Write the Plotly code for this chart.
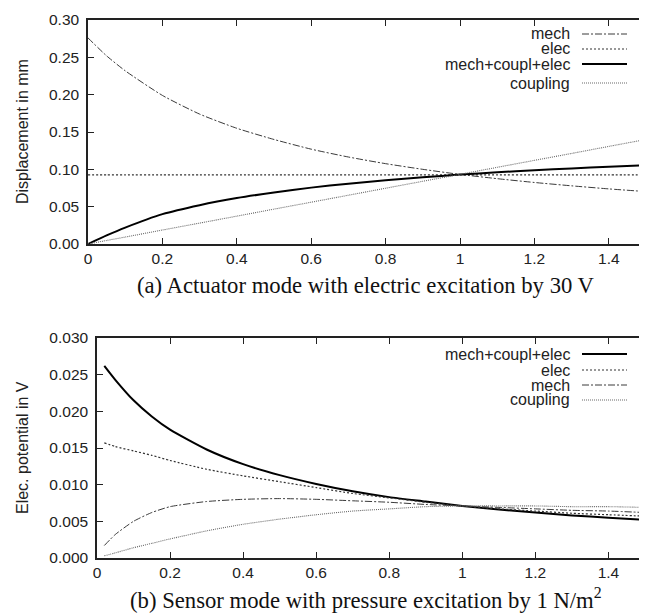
import plotly.graph_objects as go

# ---------------- data ----------------
x_top = [0, 0.05, 0.1, 0.2, 0.3, 0.4, 0.5, 0.6, 0.7, 0.8, 0.9, 1.0, 1.1, 1.2, 1.3, 1.4, 1.5]
top_mech = [0.276, 0.252, 0.232, 0.199, 0.174, 0.155, 0.140, 0.127, 0.1165, 0.1076, 0.100,
            0.0932, 0.0875, 0.0824, 0.0779, 0.0738, 0.0702]
top_elec = [0.0925] * 17
top_total = [0.0, 0.0115, 0.022, 0.040, 0.052, 0.0615, 0.069, 0.0755, 0.0808, 0.0853, 0.0893,
             0.0930, 0.0960, 0.0987, 0.1012, 0.1034, 0.1055]
top_coupling = [0.0, 0.0047, 0.0093, 0.0187, 0.028, 0.0373, 0.0467, 0.056, 0.0653, 0.0747, 0.084,
                0.0933, 0.1027, 0.112, 0.1213, 0.1307, 0.140]

x_bot = [0.02, 0.05, 0.1, 0.15, 0.2, 0.3, 0.4, 0.5, 0.6, 0.7, 0.8, 0.9, 1.0, 1.1, 1.2, 1.3, 1.4, 1.5]
bot_total = [0.0262, 0.0243, 0.0215, 0.0193, 0.0175, 0.0148, 0.0128, 0.0113, 0.0101, 0.0091,
             0.0083, 0.0077, 0.0071, 0.0066, 0.0062, 0.0058, 0.0055, 0.0052]
bot_elec = [0.0157, 0.0152, 0.0146, 0.0140, 0.0133, 0.0121, 0.0112, 0.0104, 0.0096, 0.0088,
            0.0082, 0.0076, 0.0071, 0.0067, 0.0064, 0.0061, 0.0059, 0.0057]
bot_mech = [0.0017, 0.0032, 0.0050, 0.0062, 0.0070, 0.0077, 0.0080, 0.0081, 0.0080, 0.0078,
            0.0076, 0.0073, 0.0071, 0.0069, 0.0067, 0.0065, 0.0064, 0.0062]
bot_coupling = [0.0003, 0.0007, 0.0014, 0.0020, 0.0026, 0.0037, 0.0046, 0.0053, 0.0059, 0.0064,
                0.0067, 0.0070, 0.0071, 0.0071, 0.0071, 0.0070, 0.0070, 0.0069]

top_legend = ["mech", "elec", "mech+coupl+elec", "coupling"]
bot_legend = ["mech+coupl+elec", "elec", "mech", "coupling"]
x_ticks = [0, 0.2, 0.4, 0.6, 0.8, 1.0, 1.2, 1.4]
x_ticklabels = ["0", "0.2", "0.4", "0.6", "0.8", "1", "1.2", "1.4"]
top_caption = "(a) Actuator mode with electric excitation by 30 V"
bot_caption = "(b) Sensor mode with pressure excitation by 1 N/m<sup>2</sup>"
top_ytitle = "Displacement in mm"
bot_ytitle = "Elec. potential in V"

# ---------------- styles ----------------
OFF = 8                      # page body margin of the html page
W, H = 647 - OFF, 614 - OFF  # figure size so it fits the window
STY = {
    "mech": dict(color="#3a3a3a", width=1, dash="7px,2px,2px,2px"),
    "elec": dict(color="#333333", width=1.2, dash="2px,2px"),
    "mech+coupl+elec": dict(color="#000000", width=2),
    "coupling": dict(color="#6a6a6a", width=1.1, dash="1px,1px"),
}
SANS = "Liberation Sans, Arial, sans-serif"
SERIF = "Liberation Serif, Times New Roman, serif"

fig = go.Figure()

def add(x, y, name, xa, ya):
    fig.add_trace(go.Scatter(x=x, y=y, mode="lines", line=dict(shape="spline", smoothing=0.6, **STY[name]),
                             xaxis=xa, yaxis=ya, showlegend=False, name=name))

add(x_top, top_mech, "mech", "x", "y")
add(x_top, top_elec, "elec", "x", "y")
add(x_top, top_total, "mech+coupl+elec", "x", "y")
add(x_top, top_coupling, "coupling", "x", "y")

add(x_bot, bot_total, "mech+coupl+elec", "x2", "y2")
add(x_bot, bot_elec, "elec", "x2", "y2")
add(x_bot, bot_mech, "mech", "x2", "y2")
add(x_bot, bot_coupling, "coupling", "x2", "y2")

def px(v):
    return (v - OFF) / W

def py(v):
    return 1 - (v - OFF) / H

axis_common = dict(showline=True, linecolor="#222222", linewidth=1.5, mirror="ticks", ticks="inside",
                   ticklen=6, tickcolor="#222222", showgrid=False, zeroline=False, automargin=False,
                   tickfont=dict(family=SANS, size=15.5, color="#222222"))

fig.update_layout(
    width=W, height=H, margin=dict(l=0, r=0, t=0, b=0, autoexpand=False),
    paper_bgcolor="white", plot_bgcolor="white",
    xaxis=dict(domain=[px(88), min(1.0, px(646))], range=[0, 1.5], anchor="y", tickvals=x_ticks,
               ticktext=x_ticklabels, **axis_common),
    yaxis=dict(domain=[py(244), py(20)], range=[0, 0.30], anchor="x", dtick=0.05, tickformat=".2f",
               ticklabelstandoff=4, **axis_common),
    xaxis2=dict(domain=[px(97), min(1.0, px(645))], range=[0, 1.5], anchor="y2", tickvals=x_ticks,
                ticktext=x_ticklabels, **axis_common),
    yaxis2=dict(domain=[py(558), py(338)], range=[0, 0.030], anchor="x2", dtick=0.005, tickformat=".3f",
                ticklabelstandoff=4, **axis_common),
)

ann = []
shapes = []

def legend(names, rows):
    for name, r in zip(names, rows):
        ann.append(dict(x=px(572), y=py(r), xref="paper", yref="paper", text=name, showarrow=False,
                        xanchor="right", yanchor="middle", font=dict(family=SANS, size=16, color="#222222")))
        shapes.append(dict(type="line", xref="paper", yref="paper", x0=px(582), x1=px(627),
                           y0=py(r), y1=py(r), line=STY[name]))

legend(top_legend, [34, 49, 64, 83])
legend(bot_legend, [354, 370, 385, 400])

ann.append(dict(x=px(22), y=py(132), xref="paper", yref="paper", text=top_ytitle, textangle=-90,
                xanchor="center", yanchor="middle",
                showarrow=False, font=dict(family=SANS, size=16, color="#222222")))
ann.append(dict(x=px(22), y=py(448), xref="paper", yref="paper", text=bot_ytitle, textangle=-90,
                xanchor="center", yanchor="middle",
                showarrow=False, font=dict(family=SANS, size=16, color="#222222")))
ann.append(dict(x=px(366), y=py(285), xref="paper", yref="paper", text=top_caption, showarrow=False,
                xanchor="center", yanchor="middle",
                font=dict(family=SERIF, size=22.7, color="#111111")))
ann.append(dict(x=px(366), y=0, xref="paper", yref="paper", text=bot_caption, showarrow=False,
                xanchor="center", yanchor="bottom", borderpad=0,
                font=dict(family=SERIF, size=22.7, color="#111111")))

fig.update_layout(annotations=ann, shapes=shapes)
fig.write_html("out.html")
